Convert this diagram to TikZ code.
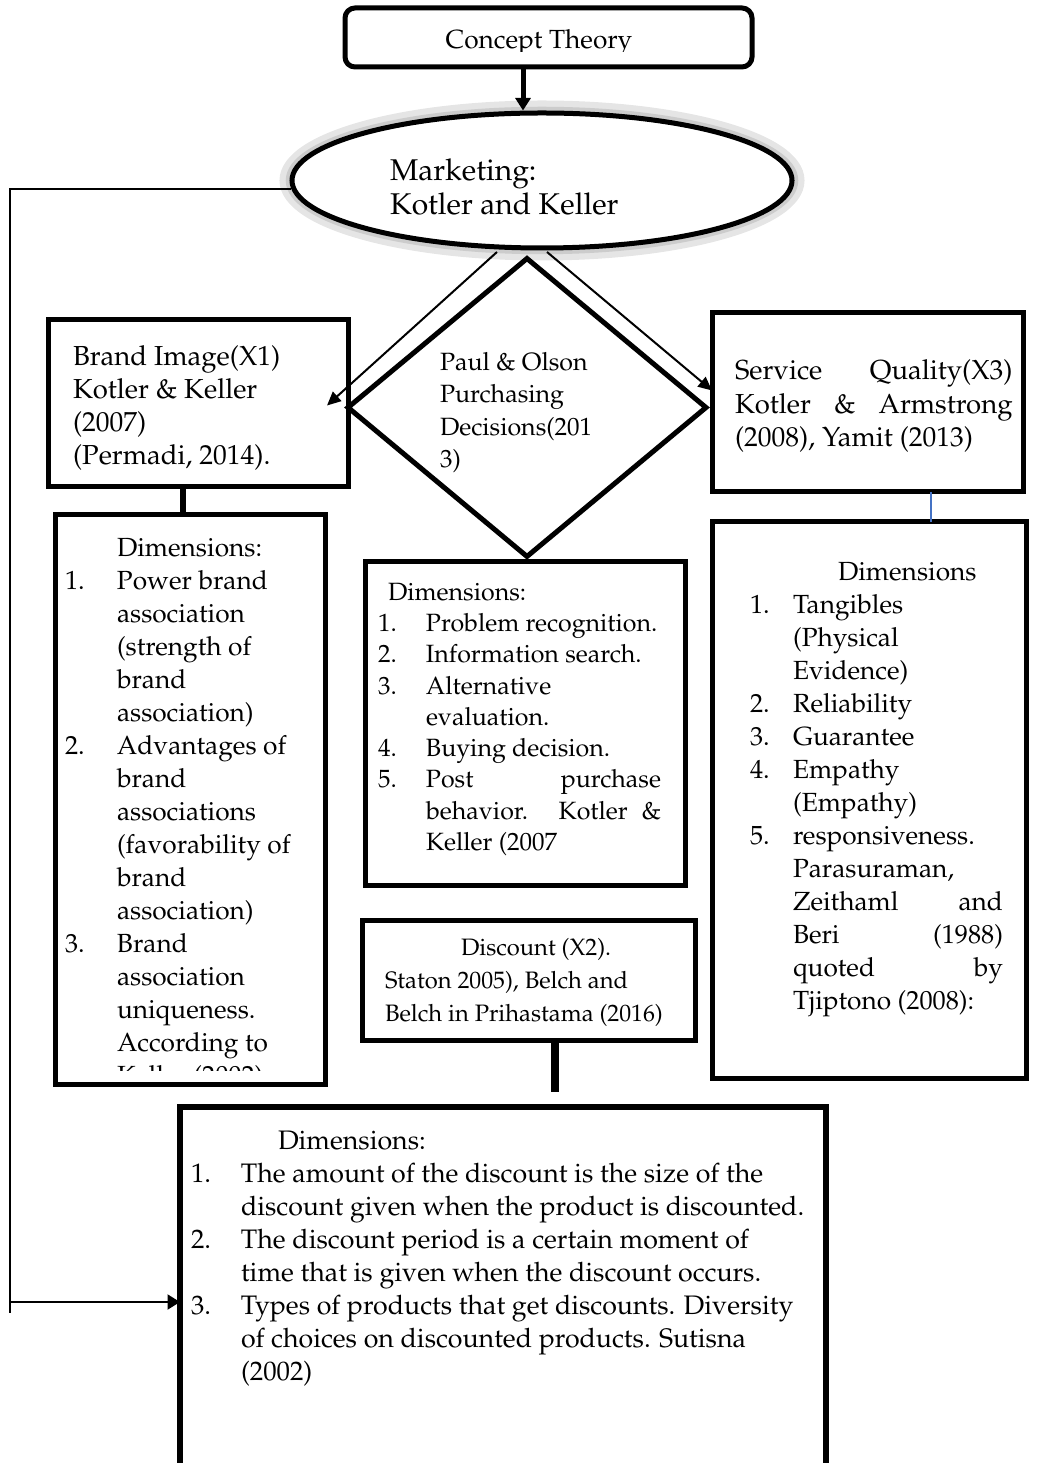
\documentclass[tikz,border=0pt]{standalone}
\usepackage[T1]{fontenc}
\usepackage{mathpazo}
\usetikzlibrary{shapes.geometric,arrows.meta,calc,fit}
\newlength\numw
\newcommand\itm[1]{\makebox[\numw][l]{#1}}
\newcommand\ind{\hspace*{\numw}}
\definecolor{linkblue}{RGB}{68,114,196}
\begin{document}
\begin{tikzpicture}[x=0.4pt,y=-0.4pt,
  frame/.style={draw, line width=2pt, inner sep=0pt, outer sep=0pt},
  txt/.style={anchor=north west, inner sep=0pt, outer sep=0pt, align=left},
  thinline/.style={line width=0.8pt},
  bigtip/.style={-{Triangle[length=5pt,width=6pt]}},
  smalltip/.style={-{Triangle[length=5.5pt,width=5pt]}},
]
\useasboundingbox (0,0) rectangle (1040,1463);
\clip (0,0) rectangle (1040,1463);

% ---- top box
\node[frame, rounded corners=4pt, fit={(345,8)(752,67)}] (ct) {};
\begin{scope}
  \clip (345,8) rectangle (752,52);
  \node[anchor=base, inner sep=0pt, font=\fontsize{10.5}{12}\selectfont] (cttxt) at (539,49) {Concept Theory};
\end{scope}

% ---- ellipse
\node[ellipse, draw=black!10, line width=6pt, minimum width=204pt, minimum height=58pt, inner sep=0pt] (mkglow) at (542,180.5) {};
\node[ellipse, draw=black!20, line width=3pt, minimum width=202pt, minimum height=56pt, inner sep=0pt] (mkglow2) at (542,180.5) {};
\node[ellipse, draw, fill=white, line width=2pt, minimum width=200pt, minimum height=54pt, inner sep=0pt] (mk) at (542,180.5) {};
\node[txt, font=\fontsize{12}{13.6}\selectfont] (mktxt) at (390,159) {Marketing:\\Kotler and Keller};

\coordinate (ax) at (523,0);
\draw[line width=2pt, bigtip] (ct.south -| ax) -- (mk.north -| ax);

% ---- diamond
\node[diamond, draw, line width=2pt, minimum width=144pt, minimum height=120pt, inner sep=0pt] (pd) at (527,407.5) {};
\node[txt, font=\fontsize{10}{13}\selectfont] (pdtxt) at (440,352) {Paul \& Olson\\Purchasing\\Decisions(201\\3)};

% ---- brand image box
\node[frame, fit={(48,320)(348,487)}] (bi) {};
\node[txt, font=\fontsize{11}{13.2}\selectfont] (bitxt) at (73,346) {Brand Image(X1)\\Kotler \& Keller\\(2007)\\(Permadi, 2014).};

% ---- service quality box
\node[frame, fit={(712,313)(1023,492)}] (sq) {};
\node[txt, font=\fontsize{11}{13.4}\selectfont] (sqtxt) at (735,360) {\makebox[111pt][s]{Service Quality(X3)}\\\makebox[111pt][s]{Kotler \& Armstrong}\\(2008), Yamit (2013)};

% ---- arrows from ellipse
\coordinate (la0) at (497,252);
\coordinate (ra0) at (547,252);
\draw[thinline, smalltip] (la0) -- ($(bi.east)+(-21,2)$);
\draw[thinline, smalltip] (ra0) -- ($(sq.west)+(0,-12)$);

% ---- left dimensions
\node[frame, fit={(55,515)(325,1084)}] (ld) {};
\begin{scope}
  \clip (57,517) rectangle (323,1070);
  \node[txt, font={\fontsize{10.5}{13.2}\selectfont\setlength\numw{20.8pt}}] (ldtxt) at (65,538) {\ind Dimensions:\\
  \itm{1.}Power brand\\
  \ind association\\
  \ind (strength of\\
  \ind brand\\
  \ind association)\\
  \itm{2.}Advantages of\\
  \ind brand\\
  \ind associations\\
  \ind (favorability of\\
  \ind brand\\
  \ind association)\\
  \itm{3.}Brand\\
  \ind association\\
  \ind uniqueness.\\
  \ind According to\\
  \ind Keller (2002)};
\end{scope}
\coordinate (cx) at (183,0);
\draw[line width=2.4pt] (bi.south -| cx) -- (ld.north -| cx);

% ---- middle dimensions
\node[frame, fit={(365,562)(685,885)}] (md) {};
\node[txt, font={\fontsize{10}{12.5}\selectfont\setlength\numw{19.2pt}}] (mdtxt) at (378,583) {\hspace*{4pt}Dimensions:\\
\itm{1.}Problem recognition.\\
\itm{2.}Information search.\\
\itm{3.}Alternative\\
\ind evaluation.\\
\itm{4.}Buying decision.\\
\itm{5.}\makebox[94pt][s]{Post purchase}\\
\ind\makebox[94pt][s]{behavior. Kotler \&}\\
\ind Keller (2007};

% ---- right dimensions
\node[frame, fit={(712,522)(1026,1078)}] (rd) {};
\node[txt, font={\fontsize{10.5}{13.2}\selectfont\setlength\numw{17.2pt}}] (rdtxt) at (750,562) {\hspace*{35.2pt}Dimensions\\
\itm{1.}Tangibles\\
\ind (Physical\\
\ind Evidence)\\
\itm{2.}Reliability\\
\itm{3.}Guarantee\\
\itm{4.}Empathy\\
\ind (Empathy)\\
\itm{5.}responsiveness.\\
\ind Parasuraman,\\
\ind\makebox[84pt][s]{Zeithaml and}\\
\ind\makebox[84pt][s]{Beri (1988)}\\
\ind\makebox[84pt][s]{quoted by}\\
\ind Tjiptono (2008):};
\coordinate (bx) at (931,0);
\draw[linkblue, line width=0.6pt] (sq.south -| bx) -- (rd.north -| bx);

% ---- discount
\node[frame, fit={(362,920)(695,1040)}] (dc) {};
\node[txt, font=\fontsize{9.5}{13.2}\selectfont] (dctxt) at (385,938) {\hspace*{30.4pt}Discount (X2).\\Staton 2005), Belch and\\Belch in Prihastama (2016)};
\coordinate (dx) at (555,1092);
\draw[line width=3pt] (dc.south -| dx) -- (dx);

% ---- bottom dimensions
\node[frame, line width=2.4pt, fit={(180,1107)(826,1480)}] (bt) {};
\node[txt, font={\fontsize{10.7}{13.2}\selectfont\setlength\numw{20pt}}] (bttxt) at (191,1131) {\hspace*{34.8pt}Dimensions:\\
\itm{1.}The amount of the discount is the size of the\\
\ind discount given when the product is discounted.\\
\itm{2.}The discount period is a certain moment of\\
\ind time that is given when the discount occurs.\\
\itm{3.}Types of products that get discounts. Diversity\\
\ind of choices on discounted products. Sutisna\\
\ind (2002)};

% ---- left feedback line
\coordinate (lx) at (10,1313);
\coordinate (ly) at (10,1302);
\draw[thinline] (mk.182) -- (mk.182 -| lx) -- (lx);
\draw[thinline, bigtip] (ly) -- (bt.west |- ly);
\end{tikzpicture}
\end{document}
